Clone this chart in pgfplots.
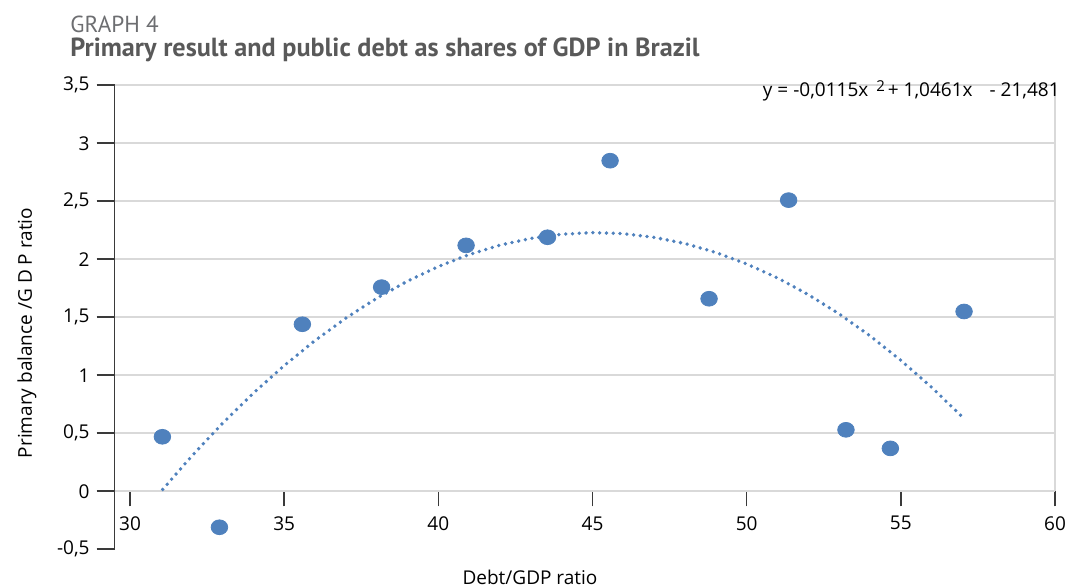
\documentclass[border=0pt]{standalone}
\usepackage{pgfplots}
\pgfplotsset{compat=1.18}
\usepackage{pgfplotstable}
\usepackage{fontspec}
\setmainfont{Open Sans}
\newfontfamily\titlefont{PT Sans}
\definecolor{ptblue}{HTML}{4F81BD}
\definecolor{gridgray}{HTML}{D9D9D9}
\definecolor{titlegray}{HTML}{595959}
\definecolor{labelgray}{HTML}{6D6E71}
\definecolor{axisgray}{HTML}{3A3A3A}

% debt/GDP vs primary balance/GDP
\pgfplotstableread{
x y
31.05 0.47
32.90 -0.31
35.59 1.44
38.16 1.76
40.90 2.12
43.54 2.19
45.57 2.85
48.78 1.66
51.36 2.51
53.22 0.53
54.66 0.37
57.05 1.55
}\scatterdata

% polynomial trend line
\pgfplotstableread{
x y
31.06 0.016
32 0.303
33 0.586
34 0.846
35 1.084
36 1.300
37 1.493
38 1.664
39 1.812
40 1.938
41 2.041
42 2.122
43 2.180
44 2.216
45 2.230
46 2.221
47 2.189
48 2.136
49 2.059
50 1.960
51 1.839
52 1.695
53 1.529
54 1.340
55 1.129
56 0.896
57.03 0.632
}\trenddata

\begin{document}
\begin{tikzpicture}
\path[use as bounding box] (-57.3pt,-18.85pt) rectangle (475.2pt,274.65pt);
\begin{axis}[
    scale only axis,
    width=470.2pt, height=232pt,
    xmin=29.5, xmax=60, ymin=-0.5, ymax=3.5,
    axis x line=middle, axis y line=left,
    axis line style={-, axisgray, line width=0.8pt},
    xtick={30,35,...,60},
    ytick={-0.5},
    extra y ticks={0,0.5,...,3.5},
    extra y tick style={grid=major},
    grid style={gridgray, line width=0.8pt},
    tick align=outside,
    major tick length=9pt,
    tick style={axisgray, line width=0.8pt},
    xtick style={/pgfplots/major tick length=7.5pt},
    tick label style={font=\fontsize{9.5}{11}\selectfont, black},
    /pgf/number format/assume math mode=true,
    /pgf/number format/use comma,
    clip=false,
]
\draw[gridgray, line width=0.8pt] (axis cs:60,0) -- (axis cs:60,3.5);
\addplot[ptblue, line width=1.9pt, line cap=round, dash pattern=on 0pt off 3.4pt, no marks] table {\trenddata};
\addplot[only marks, mark=*, mark size=3.7pt, ptblue, mark options={xscale=1.12}] table {\scatterdata};
\end{axis}
\node[anchor=base west, text=labelgray, font=\titlefont\fontsize{11.6}{13}\selectfont, inner sep=0pt] at (-22.3pt,258.15pt) {GRAPH 4};
\node[anchor=base west, text=titlegray, font=\titlefont\bfseries\fontsize{13.1}{15}\selectfont, inner sep=0pt] at (-22.3pt,246.15pt) {Primary result and public debt as shares of GDP in Brazil};
\node[anchor=base east, font=\fontsize{9.5}{11}\selectfont, inner sep=0pt] at (472.7pt,226.15pt) {y = -0,0115x\hspace{4pt}\raisebox{0.55ex}{\fontsize{7.5}{8}\selectfont 2}\hspace{1.5pt}+ 1,0461x\hspace{6pt} - 21,481};
\node[anchor=base, rotate=90, font=\fontsize{9.5}{11}\selectfont, inner sep=0pt] at (-41.3pt,108.15pt) {Primary balance /G D P ratio};
\node[anchor=base, font=\fontsize{9.5}{11}\selectfont, inner sep=0pt] at (207.7pt,-17.85pt) {Debt/GDP ratio};
\end{tikzpicture}
\end{document}
